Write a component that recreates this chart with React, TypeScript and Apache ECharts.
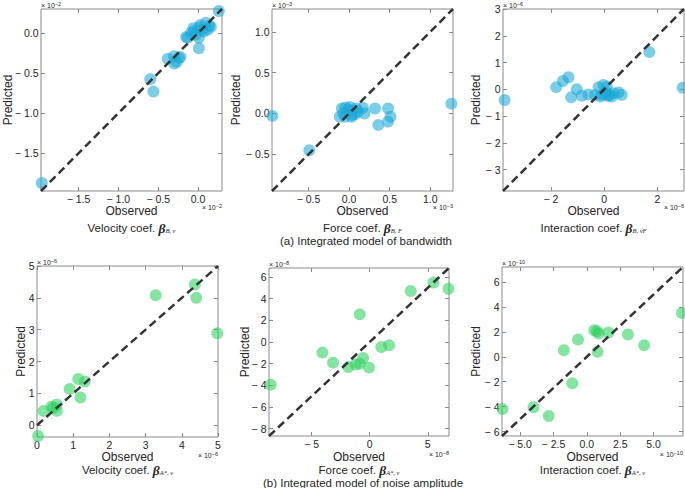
import { useEffect, useRef } from 'react';
import * as echarts from 'echarts';

// values, in the units printed on each axis (x the exponent label)
// (a) bandwidth model
const bandVelocity: [number, number][] = [
  [-1.96, -1.87], [-0.6, -0.575], [-0.56, -0.73], [-0.38, -0.32], [-0.3, -0.29],
  [-0.27, -0.36], [-0.24, -0.31], [-0.22, -0.3], [-0.3, -0.38], [0.01, -0.19],
  [-0.15, -0.05], [-0.13, -0.06], [-0.09, 0.0], [-0.05, 0.025], [-0.03, -0.02],
  [0.01, 0.07], [0.01, -0.06], [0.05, 0.045], [0.1, 0.13], [0.14, 0.09],
  [0.03, 0.1], [0.07, 0.02], [-0.06, 0.06], [0.12, 0.04], [0.16, 0.08], [0.26, 0.275],
];
const bandForce: [number, number][] = [
  [-0.945, -0.03], [-0.49, -0.45], [1.26, 0.12], [0.48, 0.06], [0.32, 0.06],
  [0.17, 0.07], [0.19, 0.0], [0.36, -0.14], [0.48, -0.1], [0.51, -0.04],
  [-0.09, 0.06], [-0.05, -0.04], [0.01, 0.08], [0.05, 0.04], [0.09, 0.06],
  [-0.07, 0.0], [0.03, -0.02], [-0.01, 0.05], [-0.115, -0.04], [0.11, 0.02],
  [-0.045, 0.074], [0.07, -0.01], [0.03, -0.04],
];
const bandInteraction: [number, number][] = [
  [-3.74, -0.4], [2.95, 0.06], [1.7, 1.39], [-1.34, 0.45], [-1.55, 0.31],
  [-1.8, 0.08], [-1.03, 0.0], [-1.24, -0.3], [-0.84, -0.24], [-0.59, -0.19],
  [-0.34, -0.21], [-0.21, 0.08], [-0.03, 0.16], [0.1, 0.1], [-0.09, -0.21],
  [0.16, -0.25], [0.35, -0.15], [0.54, -0.12], [0.66, -0.21], [0.04, -0.09],
  [0.29, -0.27], [-0.15, -0.27], [0.05, -0.2], [0.2, -0.2],
];
// (b) noise amplitude model
const noiseVelocity: [number, number][] = [
  [0.03, -0.34], [0.18, 0.45], [0.4, 0.58], [0.46, 0.55], [0.55, 0.65],
  [0.55, 0.45], [0.9, 1.14], [1.14, 1.45], [1.32, 1.37], [1.2, 0.87],
  [3.28, 4.08], [4.36, 4.42], [4.4, 4.0], [4.98, 2.89],
];
const noiseForce: [number, number][] = [
  [-8.53, -3.94], [-4.08, -0.98], [-3.16, -1.91], [-1.84, -2.31], [-1.21, -2.09],
  [-0.86, -2.0], [-0.57, -1.48], [-0.06, -2.37], [-0.86, 2.55], [1.0, -0.46],
  [1.67, -0.31], [3.53, 4.71], [5.49, 5.48], [6.78, 4.92],
];
const noiseInteraction: [number, number][] = [
  [-6.31, -4.19], [-3.99, -4.05], [-2.85, -4.75], [-1.09, -2.13], [-1.72, 0.53],
  [-0.66, 1.39], [0.56, 2.13], [0.76, 2.05], [0.88, 1.87], [0.81, 0.4],
  [1.62, 1.95], [3.08, 1.79], [4.29, 0.93], [7.12, 3.52],
];

// axis limits and tick labels
const bandVelocityLim = [-1.97, 0.3];
const bandForceLim = [-0.95, 1.28];
const bandInteractionLim = [-3.8, 3.0];
const noiseVelocityXLim = [0, 5];
const noiseVelocityYLim = [-0.37, 5];
const noiseForceLim = [-8.68, 6.83];
const noiseInteractionLim = [-6.35, 7.2];

const bandVelocityTicks = [-1.5, -1.0, -0.5, 0];
const bandForceTicks = [-0.5, 0, 0.5, 1.0];
const bandInteractionXTicks = [-2, 0, 2];
const bandInteractionYTicks = [-3, -2, -1, 0, 1, 2, 3];
const noiseVelocityTicks = [0, 1, 2, 3, 4, 5];
const noiseForceXTicks = [-5, 0, 5];
const noiseForceYTicks = [-8, -6, -4, -2, 0, 2, 4, 6];
const noiseInteractionXTicks = [-5, -2.5, 0, 2.5, 5];
const noiseInteractionYTicks = [-6, -4, -2, 0, 2, 4, 6];

const BLUE = '#1ba8d8';
const GREEN = '#2fd160';
const FONT = '"Liberation Sans", Arial, sans-serif';
const BOX = '#8a8a8a';
const INK = '#262626';

const panels = [
  { data: bandVelocity, color: BLUE, xLim: bandVelocityLim, yLim: bandVelocityLim, xTicks: bandVelocityTicks, yTicks: bandVelocityTicks, xDec: 1, yDec: 1, exp: '\u22122', name: 'Velocity coef. ', sub: 'B, v', box: [41, 9, 181, 182], predX: 8 },
  { data: bandForce, color: BLUE, xLim: bandForceLim, yLim: bandForceLim, xTicks: bandForceTicks, yTicks: bandForceTicks, xDec: 1, yDec: 1, exp: '\u22123', name: 'Force coef. ', sub: 'B, F', box: [272, 9, 181, 182], predX: 236 },
  { data: bandInteraction, color: BLUE, xLim: bandInteractionLim, yLim: bandInteractionLim, xTicks: bandInteractionXTicks, yTicks: bandInteractionYTicks, xDec: 0, yDec: 0, exp: '\u22126', name: 'Interaction coef. ', sub: 'B, vF', box: [503, 9, 181, 182], predX: 476 },
  { data: noiseVelocity, color: GREEN, xLim: noiseVelocityXLim, yLim: noiseVelocityYLim, xTicks: noiseVelocityTicks, yTicks: noiseVelocityTicks, xDec: 0, yDec: 0, exp: '\u22126', name: 'Velocity coef. ', sub: 'A*, v', box: [37, 266, 181, 171], predX: 21 },
  { data: noiseForce, color: GREEN, xLim: noiseForceLim, yLim: noiseForceLim, xTicks: noiseForceXTicks, yTicks: noiseForceYTicks, xDec: 0, yDec: 0, exp: '\u22128', name: 'Force coef. ', sub: 'A*, v', box: [269, 268, 180, 168], predX: 245 },
  { data: noiseInteraction, color: GREEN, xLim: noiseInteractionLim, yLim: noiseInteractionLim, xTicks: noiseInteractionXTicks, yTicks: noiseInteractionYTicks, xDec: 1, yDec: 0, exp: '\u221210', name: 'Interaction coef. ', sub: 'A*, v', box: [502, 267, 181, 169], predX: 476 },
];

const fmt = (dec: number) => (v: number) =>
  (v < 0 ? '\u2212 ' : '') + Math.abs(v).toFixed(dec);

function axis(lim: number[], ticks: number[], labels: boolean, dec: number, position: string) {
  return {
    type: 'value',
    position,
    min: lim[0],
    max: lim[1],
    splitLine: { show: false },
    axisLine: { show: false, onZero: false },
    axisTick: { show: true, inside: true, length: 4, customValues: ticks, lineStyle: { color: BOX } },
    axisLabel: labels
      ? { show: true, customValues: ticks, formatter: fmt(dec), margin: 2.5, fontSize: 10.5, color: INK, fontFamily: FONT }
      : { show: false },
  };
}

export default function App() {
  const ref = useRef<HTMLDivElement>(null);

  useEffect(() => {
    if (!ref.current) return;
    const chart = echarts.init(ref.current, null, { renderer: 'svg' });

    const grid: any[] = [];
    const xAxis: any[] = [];
    const yAxis: any[] = [];
    const series: any[] = [];
    const graphic: any[] = [];

    panels.forEach((p, i) => {
      const [left, top, width, height] = p.box;
      grid.push({ left, top, width, height, show: true, borderColor: BOX, borderWidth: 1, outerBoundsMode: 'none' });
      xAxis.push({ gridIndex: i, ...axis(p.xLim, p.xTicks, true, p.xDec, 'bottom') });
      xAxis.push({ gridIndex: i, ...axis(p.xLim, p.xTicks, false, p.xDec, 'top') });
      yAxis.push({ gridIndex: i, ...axis(p.yLim, p.yTicks, true, p.yDec, 'left') });
      yAxis.push({ gridIndex: i, ...axis(p.yLim, p.yTicks, false, p.yDec, 'right') });

      series.push({
        type: 'scatter',
        xAxisIndex: 2 * i,
        yAxisIndex: 2 * i,
        data: p.data,
        symbolSize: 12,
        clip: true,
        itemStyle: { color: p.color, opacity: 0.58 },
        z: 2,
      });
      const lo = Math.max(p.xLim[0], p.yLim[0]);
      const hi = Math.min(p.xLim[1], p.yLim[1]);
      series.push({
        type: 'line',
        xAxisIndex: 2 * i,
        yAxisIndex: 2 * i,
        data: [[lo, lo], [hi, hi]],
        symbol: 'none',
        silent: true,
        lineStyle: { color: '#333333', width: 2.5, type: [8, 4.5] },
        z: 3,
      });

      const cx = left + width / 2;
      const bottom = top + height;
      const row2 = i >= 3;
      const expRich = {
        a: { fontSize: 7, fontFamily: FONT, fill: INK, lineHeight: 8, verticalAlign: 'bottom' },
        e: { fontSize: 5.5, fontFamily: FONT, fill: INK, lineHeight: 8, verticalAlign: 'top' },
      };
      graphic.push({
        type: 'text', x: left, y: top - 4.5,
        style: { text: `{a|\u00d7 10}{e|${p.exp}}`, rich: expRich, align: 'left', verticalAlign: 'middle' },
      });
      graphic.push({
        type: 'text', x: left + width, y: bottom + (row2 ? 18 : 16),
        style: { text: `{a|\u00d7 10}{e|${p.exp}}`, rich: expRich, align: 'right', verticalAlign: 'middle' },
      });
      graphic.push({
        type: 'text', x: cx, y: row2 ? 457 : 211,
        style: { text: 'Observed', fontSize: 12, fontFamily: FONT, fill: INK, align: 'center', verticalAlign: 'middle' },
      });
      graphic.push({
        type: 'text', x: cx, y: row2 ? 470 : 228,
        style: {
          text: `{t|${p.name}}{b|\u03b2}{s|${p.sub}}`,
          align: 'center',
          verticalAlign: 'middle',
          rich: {
            t: { fontSize: 11.5, fontFamily: FONT, fill: INK, lineHeight: 12, verticalAlign: 'middle' },
            b: { fontSize: 13.5, fontFamily: '"Liberation Serif", serif', fontWeight: 'bold', fontStyle: 'italic', fill: INK, lineHeight: 12, verticalAlign: 'middle' },
            s: { fontSize: 6.5, fontFamily: '"Liberation Serif", serif', fontStyle: 'italic', fill: INK, lineHeight: 12, verticalAlign: 'bottom' },
          },
        },
      });
      graphic.push({
        type: 'text', x: p.predX, y: top + height / 2, rotation: Math.PI / 2,
        style: { text: 'Predicted', fontSize: 12, fontFamily: FONT, fill: INK, align: 'center', verticalAlign: 'middle' },
      });
    });

    graphic.push({
      type: 'text', x: 366, y: 240.5,
      style: { text: '(a) Integrated model of bandwidth', fontSize: 11.5, fontFamily: FONT, fill: INK, align: 'center', verticalAlign: 'middle' },
    });
    graphic.push({
      type: 'text', x: 363, y: 482.5,
      style: { text: '(b) Integrated model of noise amplitude', fontSize: 11.5, fontFamily: FONT, fill: INK, align: 'center', verticalAlign: 'middle' },
    });

    chart.setOption({
      animation: false,
      backgroundColor: '#ffffff',
      textStyle: { fontFamily: FONT },
      grid,
      xAxis,
      yAxis,
      series,
      graphic,
    });

    return () => {
      chart.dispose();
    };
  }, []);

  return (
    <div
      ref={ref}
      style={{ position: 'absolute', left: 0, top: 0, width: 685, height: 488 }}
    />
  );
}
